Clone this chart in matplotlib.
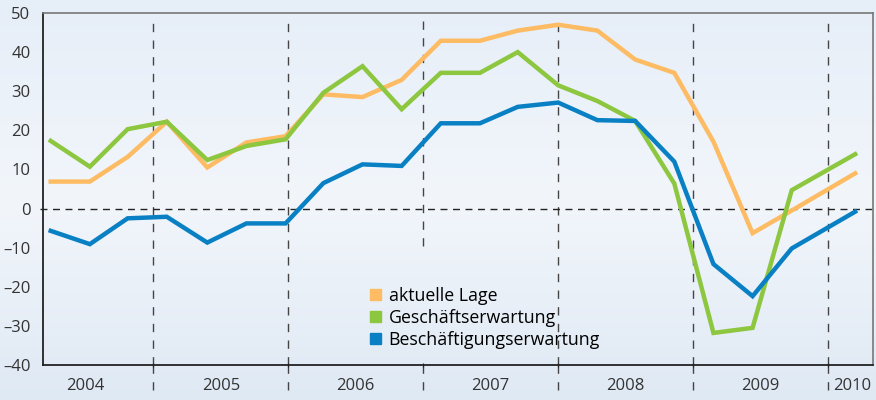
import numpy as np
import matplotlib
matplotlib.use("Agg")
import matplotlib.pyplot as plt
from matplotlib.patches import Patch
from matplotlib.colors import LinearSegmentedColormap

plt.rcParams['font.family'] = ['Open Sans', 'DejaVu Sans']

# survey dates (decimal years)
dates = [2004.24, 2004.53, 2004.81, 2005.10, 2005.40, 2005.69, 2005.98,
         2006.26, 2006.55, 2006.84, 2007.13, 2007.42, 2007.70, 2008.00,
         2008.29, 2008.57, 2008.86, 2009.15, 2009.44, 2009.73, 2010.20]

aktuelle_lage = [6.9, 6.9, 13.2, 22.2, 10.5, 16.9, 18.5,
                 29.2, 28.5, 32.9, 42.9, 42.9, 45.5, 47.0,
                 45.5, 38.1, 34.7, 17.1, -6.3, -0.5, 9.0]
geschaeftserwartung = [17.3, 10.7, 20.3, 22.2, 12.4, 16.0, 17.7,
                       29.6, 36.4, 25.4, 34.7, 34.7, 40.0, 31.5,
                       27.5, 22.4, 6.4, -31.8, -30.5, 4.7, 13.9]
beschaeftigungserwartung = [-5.7, -9.1, -2.5, -2.1, -8.7, -3.8, -3.8,
                            6.5, 11.3, 10.9, 21.8, 21.8, 26.0, 27.1,
                            22.6, 22.4, 12.0, -14.2, -22.4, -10.2, -0.8]

years = [2004, 2005, 2006, 2007, 2008, 2009, 2010]
year_bounds = [2005, 2006, 2007, 2008, 2009, 2010]
yticks = [50, 40, 30, 20, 10, 0, -10, -20, -30, -40]

c_orange = '#fdbb63'
c_green = '#8dc63f'
c_blue = '#0a80c4'

fig = plt.figure(figsize=(8.76, 4.0), dpi=100)

# background gradient
bg = fig.add_axes([0, 0, 1, 1], zorder=-10)
cmap = LinearSegmentedColormap.from_list('bg', ['#e6eef8', '#f2f6fb', '#dfe9f4'])
bg.imshow(np.linspace(0, 1, 256).reshape(-1, 1), aspect='auto', cmap=cmap,
          extent=[0, 1, 0, 1])
bg.axis('off')

ax = fig.add_axes([0.0491, 0.0875, 0.947, 0.88])
ax.set_facecolor('none')
ax.set_xlim(2004.183, 2010.329)
ax.set_ylim(-40, 50)

ax.plot(dates, aktuelle_lage, color=c_orange, lw=3.2, solid_joinstyle='miter', zorder=3)
ax.plot(dates, geschaeftserwartung, color=c_green, lw=3.2, solid_joinstyle='miter', zorder=3)
ax.plot(dates, beschaeftigungserwartung, color=c_blue, lw=3.2, solid_joinstyle='miter', zorder=3)

# zero line
ax.axhline(0, color='#222222', lw=1, dashes=(5, 4), zorder=2, xmin=-0.004, clip_on=False)

# year separators
for yb in year_bounds:
    ymin = -40
    if yb == 2007:
        ymin = -9.5
    ax.plot([yb, yb], [ymin, 49], color='#444444', lw=1, dashes=(6, 6), zorder=1)
    ax.plot([yb, yb], [-40, -48.5], color='#444444', lw=1, dashes=(6, 6),
            clip_on=False, zorder=1)

ax.set_yticks(yticks)
ax.set_yticklabels([str(v).replace('-', '\u2013') for v in yticks])
ax.tick_params(axis='y', length=0, pad=9, labelsize=12, colors='#333333')
ax.set_xticks(year_bounds[:-1] + [2010])
ax.tick_params(axis='x', length=3, direction='inout', labelbottom=False, color='#222222')

for y in years:
    xpos = y + 0.5 if y < 2010 else 2010.18
    ax.text(xpos, -45.3, str(y), ha='center', va='center', fontsize=12, color='#333333')

for s in ['left', 'bottom']:
    ax.spines[s].set_color('#222222')
    ax.spines[s].set_linewidth(1.3)
for s in ['top', 'right']:
    ax.spines[s].set_color('#777777')
    ax.spines[s].set_linewidth(1.2)

handles = [Patch(color=c_orange, label='aktuelle Lage'),
           Patch(color=c_green, label='Geschäftserwartung'),
           Patch(color=c_blue, label='Beschäftigungserwartung')]
ax.legend(handles=handles, loc='upper left', bbox_to_anchor=(0.394, 0.222),
          frameon=False, fontsize=12.8, handlelength=0.6, handleheight=0.6,
          handletextpad=0.45, labelspacing=0.22, borderpad=0, borderaxespad=0)

fig.savefig('out.png', dpi=100)
